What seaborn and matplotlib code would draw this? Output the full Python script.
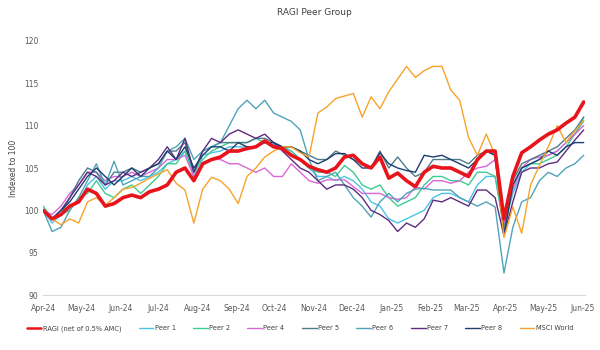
import pandas as pd
import numpy as np
import seaborn as sns
import matplotlib.pyplot as plt
import matplotlib.dates as mdates

# weekly index values (Apr-24 .. Jun-25)
dates = pd.date_range('2024-04-01', periods=62, freq='7D')

ragi = [100, 99, 99.5, 100.5, 101, 102.5, 102, 100.5, 100.8, 101.5, 101.8, 101.5, 102.2, 102.5,
        103, 104.5, 105, 103.5, 105.5, 106, 106.3, 107, 107, 107.3, 107.5, 108.2, 107.5, 107.3,
        106.5, 106, 105.2, 104.8, 104.5, 105, 106.3, 106.5, 105.5, 105, 106.3, 103.8, 104.4, 103.5,
        102.8, 104.5, 105.2, 105, 105, 104.5, 104, 106, 107, 107, 99, 104, 106.8, 107.5, 108.3,
        109, 109.5, 110.3, 111, 112.8]
peer1 = [100, 98.5, 99.5, 100.5, 101, 103, 104, 102.5, 103.5, 103.5, 104, 103.5, 104, 104.5,
         105.5, 106, 107, 104, 106.5, 106.8, 107, 107.5, 107.5, 107.5, 107.5, 108, 107.8, 107.5,
         107, 106, 105, 104, 104, 103.5, 104, 103.5, 102.5, 101, 100.5, 99, 98.5, 99, 99.5, 100,
         101.5, 102, 102, 101.5, 101, 103, 104, 104, 98, 102, 104.5, 105.5, 106, 106.5, 107, 108,
         109, 110.5]
peer2 = [100.5, 99, 99.5, 100, 101.5, 102, 103.5, 102, 101.5, 102.5, 103, 102, 103, 104, 105.5,
         105.5, 107, 104.5, 106, 107, 107.5, 108, 108, 108, 108.5, 108, 107.5, 107.5, 107, 106,
         105, 104.5, 104.5, 104, 105.3, 104.5, 103, 102.5, 103, 101.5, 100.5, 101, 101.5, 103, 104,
         104, 103.5, 103.5, 103, 104.5, 104.5, 104, 98, 102.5, 105, 105.5, 105.5, 106, 106.5, 107.5,
         109, 111]
peer4 = [100, 99.5, 100.5, 102, 103, 104.5, 104.5, 103.5, 104, 104, 104.5, 104, 104.5, 105, 106,
         106, 106.5, 104, 105.5, 106, 106, 105.5, 105.5, 105, 104.5, 105, 104, 104, 105.5, 104.5,
         103.5, 103.2, 103.6, 103.6, 103.6, 102.8, 102, 102, 102, 101.5, 101.3, 101.5, 102.8,
         102.5, 103.5, 103.5, 103.2, 103.5, 104.5, 105, 105.2, 106, 98.5, 102.5, 105, 106, 106.3,
         106.5, 107, 108, 109, 110]
peer5 = [100, 99, 99.5, 101.5, 103.5, 105, 104.5, 103, 104.5, 104.5, 105, 104.5, 105, 105.5, 107,
         107, 108, 104.5, 107, 107.5, 108, 108, 108, 108, 108.5, 108.5, 108, 107.5, 107.5, 107,
         106.5, 106, 106, 107, 106.5, 106, 105.5, 105, 107, 105, 106.3, 105, 104, 104.5, 106, 106,
         106, 106, 105.5, 106.5, 107, 106.5, 97.5, 103.5, 105.5, 106, 106.5, 107, 107.5, 108.5,
         109.5, 111]
peer6 = [100, 97.5, 98, 100, 101.5, 103.5, 105.5, 103, 105.8, 103, 103.5, 104, 104, 105, 107,
         107.5, 108.5, 106, 107, 107.5, 108, 110, 112, 113, 112, 113, 111.5, 111, 110.5, 109.5,
         106, 103.5, 104, 104.5, 103, 101.5, 100.5, 99.2, 101, 102, 101, 102, 102.5, 102.6, 102.4,
         102.4, 102.4, 101.5, 101, 100.5, 101, 100.4, 92.6, 98, 101, 101.5, 103.5, 104.5, 104, 105,
         105.5, 106.5]
peer7 = [100, 99, 100, 101.5, 103, 104.5, 104, 103, 103.5, 104.5, 104, 104.5, 105, 106, 107.5,
         106, 108.5, 104.5, 107, 108.5, 108, 109, 109.5, 109, 108.5, 109, 108, 107, 106, 105,
         104.5, 103.5, 102.5, 103, 103, 102.5, 101.5, 100, 99.5, 98.8, 97.5, 98.5, 98, 99, 101.2,
         101, 101.5, 101, 100.5, 102.4, 102.4, 101.5, 97, 101, 104.5, 105, 105, 105.5, 105.7, 107,
         108.3, 109.5]
peer8 = [100, 99, 100, 101, 102.5, 104, 105, 104, 103, 104, 105, 104, 105, 105.5, 107, 106, 107.5,
         105, 106.5, 107.5, 107.5, 107, 108, 107.5, 107.5, 108, 108, 107.5, 107.5, 107, 106,
         105.5, 106, 106.7, 106.7, 106, 105, 105, 106.8, 105.5, 105, 104.7, 104.5, 106.5, 106.3,
         106.5, 106, 105.5, 105, 106, 107, 106.5, 97, 103, 105, 105.5, 106, 107, 106.5, 107.5, 108,
         108]
msci = [100, 99, 98.3, 99, 98.5, 101, 101.5, 100.6, 101.5, 102.5, 102.7, 103.2, 103.8, 104.3,
        104.8, 103.2, 102.4, 98.5, 102.5, 103.9, 103.5, 102.5, 100.8, 104, 105, 106.3, 107, 107.5,
        107.5, 106.8, 106.3, 111.5, 112.2, 113.2, 113.5, 113.8, 111, 113.4, 112, 114, 115.5, 117,
        115.7, 116.5, 117, 117, 114.2, 113, 108.6, 106.5, 109, 106.5, 96.8, 100.4, 97.3, 103, 105.3,
        107.5, 110, 108, 109.4, 110.6]

names = ['RAGI (net of 0.5% AMC)', 'Peer 1', 'Peer 2', 'Peer 4', 'Peer 5', 'Peer 6',
         'Peer 7', 'Peer 8', 'MSCI World']
series = [ragi, peer1, peer2, peer4, peer5, peer6, peer7, peer8, msci]
colors = ['#e8141c', '#4cc3e6', '#3dcc91', '#d966d6', '#4d7c8a', '#4fa3b8',
          '#5e2b7e', '#1f3d6f', '#f7a32a']

df = pd.DataFrame({'date': np.tile(dates, len(names)),
                   'value': np.concatenate(series),
                   'series': np.repeat(names, len(dates))})

sns.set_style('white')
plt.rcParams['font.family'] = ['DejaVu Sans']

fig = plt.figure(figsize=(6, 3.5), dpi=100)
ax = fig.add_axes([0.072, 0.157, 0.903, 0.726])

# draw peers first, RAGI last so it sits on top
order = names[1:] + names[:1]
for nm in order:
    col = colors[names.index(nm)]
    lw = 2.6 if nm.startswith('RAGI') else 1.0
    sns.lineplot(data=df[df['series'] == nm], x='date', y='value', color=col,
                 linewidth=lw, ax=ax, label=nm)

ax.set_ylim(90, 120)
ax.set_yticks(range(90, 121, 5))
ax.set_xlim(pd.Timestamp('2024-04-01'), pd.Timestamp('2025-06-03'))
ax.xaxis.set_major_locator(mdates.MonthLocator())
ax.xaxis.set_major_formatter(mdates.DateFormatter('%b-%y'))
ax.tick_params(axis='both', labelsize=5.5, colors='#595959')
ax.tick_params(axis='x', length=3, color='#d9d9d9', width=0.8)
ax.tick_params(axis='y', length=0)
for s in ['top', 'right', 'left']:
    ax.spines[s].set_visible(False)
ax.spines['bottom'].set_color('#d9d9d9')
ax.set_xlabel('')
ax.set_ylabel('Indexed to 100', fontsize=5.5, color='#404040')
ax.set_title('RAGI Peer Group', fontsize=6.5, color='#404040', y=1.07)

handles, labels = ax.get_legend_handles_labels()
hmap = dict(zip(labels, handles))
leg = ax.legend([hmap[n] for n in names], names, loc='lower center', bbox_to_anchor=(0.5, 0.035),
                bbox_transform=fig.transFigure, ncol=9, frameon=False, fontsize=4.8,
                handlelength=2.2, handletextpad=0.2, columnspacing=2.6, labelcolor='#404040')
for i, h in enumerate(leg.get_lines()):
    h.set_linewidth(1.8 if i == 0 else 1.0)

fig.savefig('out.png', dpi=100)
